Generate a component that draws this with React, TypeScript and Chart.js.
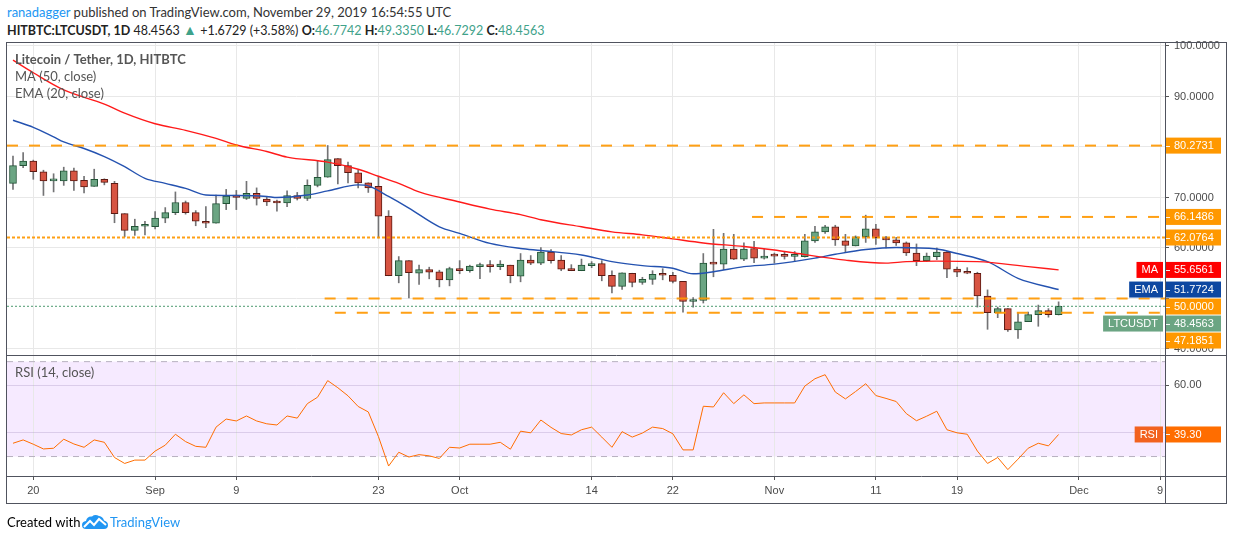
import { useEffect, useRef } from 'react';
import { Chart, registerables } from 'chart.js';

Chart.register(...registerables);

// ---- Data (day index 0 = Aug 18, 2019) ----
const opens = [72.8, 76.3, 77.2, 75.1, 73.3, 73.3, 75.3, 73.4, 72.2, 73.6, 72.8, 66.8, 63.5, 64.3, 64.2, 65.9, 67.0, 69.0, 67.0, 65.3, 64.9, 68.8, 70.5, 69.8, 70.8, 69.7, 69.1, 68.9, 70.4, 69.8, 72.4, 74.0, 77.7, 76.3, 74.9, 72.9, 72.2, 66.3, 54.5, 57.5, 55.0, 55.7, 55.3, 53.7, 55.9, 55.5, 56.3, 56.4, 56.3, 56.6, 54.4, 57.6, 57.0, 59.2, 57.6, 55.9, 55.5, 56.5, 56.9, 54.6, 52.4, 55.0, 53.2, 53.8, 54.9, 54.6, 53.4, 49.4, 49.6, 57.1, 56.8, 59.8, 57.8, 59.9, 58.0, 58.5, 58.45, 58.35, 58.3, 61.4, 63.2, 64.2, 61.4, 60.4, 62.2, 63.8, 62.0, 61.6, 61.0, 59.0, 57.5, 58.3, 59.2, 55.8, 55.3, 55.0, 50.5, 47.2, 48.0, 43.8, 45.4, 46.8, 47.6, 46.7742];
const highs = [78.2, 78.9, 77.4, 75.4, 74.7, 76.0, 75.8, 74.2, 75.6, 73.7, 73.2, 66.8, 65.7, 65.3, 67.2, 68.0, 71.1, 69.3, 67.4, 68.2, 70.5, 71.6, 71.4, 73.2, 71.9, 70.1, 69.5, 71.3, 71.0, 73.5, 77.3, 80.3, 77.7, 77.0, 75.4, 72.9, 74.2, 67.4, 58.3, 57.5, 56.6, 56.2, 55.6, 56.2, 57.5, 56.6, 57.0, 57.5, 57.5, 56.6, 58.9, 58.5, 60.1, 59.7, 58.5, 56.7, 57.8, 57.3, 57.5, 55.5, 55.1, 55.0, 54.2, 55.5, 55.9, 55.2, 53.4, 50.2, 58.9, 63.7, 62.9, 62.7, 61.0, 61.3, 59.8, 59.0, 59.3, 59.3, 62.7, 64.3, 64.5, 64.5, 62.7, 62.4, 66.5, 64.7, 62.3, 62.1, 61.2, 60.8, 59.0, 60.0, 59.3, 56.2, 56.1, 55.2, 51.7, 48.3, 48.0, 47.2, 47.3, 48.7, 48.0, 49.335];
const lows = [71.6, 75.9, 73.6, 70.4, 71.1, 72.4, 71.4, 70.9, 72.2, 72.5, 65.0, 62.2, 62.5, 62.6, 63.8, 65.0, 66.6, 66.7, 64.4, 64.0, 64.9, 67.6, 67.6, 69.6, 68.5, 68.4, 67.3, 68.2, 69.5, 69.4, 72.1, 74.0, 72.7, 72.9, 71.9, 71.0, 62.0, 54.5, 53.1, 50.1, 52.8, 53.9, 52.3, 52.5, 54.9, 55.2, 53.9, 55.2, 55.7, 53.1, 53.3, 56.7, 56.7, 57.0, 55.5, 55.5, 55.5, 56.1, 53.5, 51.1, 51.8, 52.3, 52.8, 52.8, 53.7, 53.1, 47.3, 48.3, 49.1, 54.3, 55.7, 57.7, 57.5, 57.1, 57.8, 57.0, 57.8, 57.3, 58.2, 61.1, 62.9, 60.5, 59.1, 60.4, 61.1, 60.7, 60.0, 60.5, 58.5, 56.5, 57.3, 57.7, 54.1, 54.3, 54.9, 48.3, 43.9, 46.2, 43.5, 42.1, 45.4, 44.5, 46.3, 46.7292];
const closes = [76.3, 77.2, 75.1, 73.3, 73.4, 75.3, 73.3, 72.1, 73.6, 73.0, 66.8, 63.5, 64.3, 64.4, 65.9, 67.0, 69.0, 67.0, 65.3, 64.9, 68.8, 70.3, 70.0, 70.8, 69.8, 69.1, 68.9, 70.4, 69.8, 72.4, 74.0, 77.5, 76.3, 74.9, 72.9, 71.9, 66.3, 54.5, 57.5, 55.1, 55.7, 55.2, 53.7, 55.9, 55.5, 56.4, 56.4, 56.3, 56.8, 54.5, 57.6, 57.0, 59.2, 57.5, 55.8, 55.5, 56.6, 56.9, 54.5, 52.4, 55.1, 53.2, 53.8, 54.8, 54.6, 53.4, 49.4, 49.5, 57.0, 56.8, 59.8, 57.8, 59.8, 58.0, 58.4, 58.4, 58.35, 58.45, 61.4, 63.2, 64.2, 61.6, 60.5, 62.2, 63.8, 62.0, 61.6, 61.0, 59.0, 57.5, 58.4, 59.2, 55.8, 55.2, 55.0, 50.5, 47.2, 48.0, 43.8, 45.4, 46.8, 47.6, 46.78, 48.4563];

const rsiValues = [35.6, 37.0, 35.2, 33.2, 33.5, 37.3, 35.3, 33.9, 37.0, 36.0, 29.6, 27.1, 28.5, 28.5, 32.3, 34.8, 39.4, 36.3, 34.3, 33.9, 42.4, 45.8, 45.0, 47.1, 45.0, 43.8, 43.3, 47.1, 46.2, 52.3, 55.0, 62.0, 59.0, 55.6, 51.1, 48.8, 38.4, 26.0, 31.8, 29.8, 30.8, 30.3, 29.2, 33.9, 33.6, 35.2, 35.2, 35.2, 36.0, 33.1, 40.7, 40.0, 45.4, 42.3, 39.7, 39.1, 41.3, 42.4, 38.2, 33.9, 40.5, 38.2, 39.9, 42.4, 41.8, 39.6, 32.8, 32.8, 51.2, 50.9, 56.9, 52.3, 56.0, 52.3, 52.6, 52.6, 52.6, 52.6, 59.7, 62.8, 64.5, 57.2, 54.3, 57.4, 60.7, 55.7, 54.5, 53.2, 48.1, 45.1, 47.0, 49.1, 41.3, 40.0, 39.4, 32.3, 27.1, 29.6, 24.5, 28.9, 33.5, 35.6, 34.5, 39.3];

const maDays = [0, 2, 5, 9, 11, 14, 17, 20, 22, 25, 27, 31, 34, 36, 38, 40, 44, 47, 50, 52, 56, 59, 62, 65, 68, 72, 75, 77, 82, 86, 88, 91, 95, 100, 103];
const maValues = [97.2, 94.7, 91.3, 88.5, 86.7, 84.6, 83.3, 81.7, 80.4, 79.1, 78.0, 77.0, 75.6, 74.2, 72.8, 71.1, 69.1, 67.7, 66.6, 65.6, 64.2, 63.2, 62.6, 61.8, 61.0, 60.3, 59.6, 59.0, 57.6, 57.0, 57.3, 57.4, 57.3, 56.3, 55.6561];
const emaDays = [0, 2, 4, 5, 7, 9, 11, 13, 15, 17, 19, 22, 25, 26, 29, 31, 34, 35, 37, 39, 42, 44, 47, 50, 52, 56, 59, 62, 65, 67, 69, 72, 75, 79, 81, 84, 87, 91, 93, 96, 99, 103];
const emaValues = [85.3, 83.9, 82.0, 81.0, 79.7, 78.1, 76.1, 73.8, 72.8, 71.8, 70.5, 70.4, 70.2, 70.0, 70.5, 71.3, 72.5, 72.3, 70.2, 67.9, 64.2, 62.9, 60.9, 59.9, 59.5, 58.6, 57.3, 56.5, 56.0, 54.9, 55.3, 56.3, 56.8, 58.0, 58.75, 59.7, 60.1, 59.8, 58.9, 57.3, 54.0, 51.7724];

const tickDays = [2, 14, 22, 36, 44, 57, 65, 75, 85, 93, 105, 113];
const tickLabels = ['20', 'Sep', '9', '23', 'Oct', '14', '22', 'Nov', '11', '19', 'Dec', '9'];
const priceTicks = [40, 50, 60, 70, 80, 90, 100];
const rsiTicks = [40, 60];
const rsiBands = [70, 30];

const X_MIN = -0.59;
const X_MAX = 113.48;

const levelValues = [80.2731, 66.1486, 62.0764, 50.0, 47.1851];
const levelStartDays = [X_MIN, 72.8, X_MIN, 30.7, 31.7];
const levelDotted = [false, false, true, false, false];

const lastPrice = 48.4563;
const maLast = 55.6561;
const emaLast = 51.7724;
const rsiLast = 39.3;

const UP = '#6ba583';
const UP_BORDER = '#225437';
const DOWN = '#d75442';
const DOWN_BORDER = '#5b1a13';
const ORANGE = '#ff9800';
const TEAL = '#3fa28a';
const AXIS_FONT = '"Liberation Sans", Arial, sans-serif';
const TEXT_FONT = 'Lato, "Open Sans", sans-serif';

export default function App() {
  const ref = useRef<HTMLCanvasElement>(null);

  useEffect(() => {
    const canvas = ref.current;
    if (!canvas) return;
    const days = opens.map((_, i) => i);
    const isUp = days.map((i) => closes[i] >= opens[i]);

    const levelSets = levelValues.map((v, i) => ({
      type: 'line' as const,
      yAxisID: 'y',
      data: [
        { x: levelStartDays[i], y: v },
        { x: X_MAX, y: v },
      ],
      borderColor: 'rgba(255,152,0,0.92)',
      borderWidth: 2,
      borderDash: levelDotted[i] ? [3, 2] : [11, 11],
      pointRadius: 0,
      order: -2,
    }));

    const bgPlugin = {
      id: 'rsiBg',
      beforeDraw(chart: any) {
        const { ctx, chartArea } = chart;
        const r = chart.scales.rsi;
        const top = r.getPixelForValue(rsiBands[0]);
        const bot = r.getPixelForValue(rsiBands[1]);
        ctx.save();
        ctx.fillStyle = 'rgba(153,21,255,0.09)';
        ctx.fillRect(chartArea.left, top, chartArea.right - chartArea.left, bot - top);
        ctx.restore();
      },
    };

    const overlayPlugin = {
      id: 'overlay',
      afterDraw(chart: any) {
        const { ctx, chartArea } = chart;
        const yS = chart.scales.y;
        const rS = chart.scales.rsi;
        const ax = chartArea.right;
        const L = 6.5;
        const R = 1226.5;
        const T = 42.5;
        const B = 503.5;
        ctx.save();
        // frame
        ctx.strokeStyle = '#50535e';
        ctx.lineWidth = 1;
        ctx.strokeRect(L, T, R - L, B - T);
        ctx.beginPath();
        ctx.moveTo(L, Math.round(yS.bottom) + 0.5);
        ctx.lineTo(R, Math.round(yS.bottom) + 0.5);
        ctx.moveTo(L, Math.round(chartArea.bottom) + 0.5);
        ctx.lineTo(R, Math.round(chartArea.bottom) + 0.5);
        ctx.moveTo(Math.round(ax) + 0.5, T);
        ctx.lineTo(Math.round(ax) + 0.5, B);
        ctx.stroke();

        // legends
        ctx.textBaseline = 'middle';
        ctx.textAlign = 'left';
        ctx.fillStyle = '#555';
        ctx.font = `bold 13px ${TEXT_FONT}`;
        ctx.fillText('Litecoin / Tether, 1D, HITBTC', 15, 60);
        ctx.font = `13px ${TEXT_FONT}`;
        ctx.fillText('MA (50, close)', 15, 77);
        ctx.fillText('EMA (20, close)', 15, 94);
        ctx.fillText('RSI (14, close)', 15, 373);

        // axis value labels
        const labels = [
          { v: levelValues[0], color: ORANGE, name: '' },
          { v: levelValues[1], color: ORANGE, name: '' },
          { v: levelValues[2], color: ORANGE, name: '' },
          { v: maLast, color: '#ff0000', name: 'MA' },
          { v: emaLast, color: '#0d47a1', name: 'EMA' },
          { v: levelValues[3], color: ORANGE, name: '' },
          { v: lastPrice, color: UP, name: 'LTCUSDT' },
          { v: levelValues[4], color: ORANGE, name: '' },
        ]
          .map((l) => ({ ...l, py: yS.getPixelForValue(l.v) }))
          .sort((a, b) => a.py - b.py);
        let prev = -1e9;
        const drawLabel = (y: number, text: string, color: string, name: string, nameColor: string) => {
          ctx.fillStyle = color;
          ctx.fillRect(ax + 1, y - 8, 55, 16);
          ctx.strokeStyle = 'rgba(255,255,255,0.9)';
          ctx.beginPath();
          ctx.moveTo(ax + 1, Math.round(y) + 0.5);
          ctx.lineTo(ax + 5, Math.round(y) + 0.5);
          ctx.stroke();
          ctx.font = `11px ${AXIS_FONT}`;
          ctx.fillStyle = '#fff';
          ctx.textAlign = 'left';
          ctx.fillText(text, ax + 9, y + 0.5);
          if (name) {
            const w = ctx.measureText(name).width + 10;
            ctx.fillStyle = nameColor;
            ctx.fillRect(ax - 2 - w, y - 8, w, 16);
            ctx.fillStyle = '#fff';
            ctx.textAlign = 'center';
            ctx.fillText(name, ax - 2 - w / 2, y + 0.5);
          }
        };
        for (const l of labels) {
          const y = Math.max(l.py, prev + 17);
          prev = y;
          drawLabel(y, l.v.toFixed(4), l.color, l.name, l.color);
        }
        drawLabel(rS.getPixelForValue(rsiLast), rsiLast.toFixed(2), '#ff6d00', 'RSI', '#f2621f');
        ctx.restore();
      },
    };

    const chart = new Chart(canvas, {
      type: 'bar',
      data: {
        datasets: [
          ...levelSets,
          {
            type: 'line',
            yAxisID: 'y',
            data: [
              { x: X_MIN, y: lastPrice },
              { x: X_MAX, y: lastPrice },
            ],
            borderColor: '#4c9a6e',
            borderWidth: 1,
            borderDash: [2, 2],
            pointRadius: 0,
            order: -1,
          },
          {
            type: 'line',
            yAxisID: 'y',
            data: maDays.map((d, i) => ({ x: d, y: maValues[i] })),
            borderColor: '#ff1a1a',
            borderWidth: 1.4,
            pointRadius: 0,
            cubicInterpolationMode: 'monotone',
            order: 0,
          },
          {
            type: 'line',
            yAxisID: 'y',
            data: emaDays.map((d, i) => ({ x: d, y: emaValues[i] })),
            borderColor: '#2452b0',
            borderWidth: 1.4,
            pointRadius: 0,
            cubicInterpolationMode: 'monotone',
            order: 0,
          },
          {
            type: 'bar',
            yAxisID: 'y',
            data: days.map((i) => ({ x: i, y: [opens[i], closes[i]] })),
            backgroundColor: isUp.map((u) => (u ? UP : DOWN)),
            borderColor: isUp.map((u) => (u ? UP_BORDER : DOWN_BORDER)),
            borderWidth: 1,
            borderSkipped: false,
            barThickness: 7,
            minBarLength: 2,
            grouped: false,
            order: 1,
          },
          {
            type: 'bar',
            yAxisID: 'y',
            data: days.map((i) => ({ x: i, y: [lows[i], highs[i]] })),
            backgroundColor: '#737375',
            borderWidth: 0,
            barThickness: 1,
            grouped: false,
            order: 2,
          },
          {
            type: 'line',
            yAxisID: 'rsi',
            data: days.map((i) => ({ x: i, y: rsiValues[i] })),
            borderColor: '#ff6d00',
            borderWidth: 1,
            pointRadius: 0,
            order: 0,
          },
          ...rsiBands.map((b) => ({
            type: 'line' as const,
            yAxisID: 'rsi',
            data: [
              { x: X_MIN, y: b },
              { x: X_MAX, y: b },
            ],
            borderColor: '#b7b0bf',
            borderWidth: 1,
            borderDash: [6, 5],
            pointRadius: 0,
            order: 1,
          })),
        ] as any,
      },
      options: {
        responsive: false,
        animation: false,
        events: [],
        layout: { padding: { left: 7, top: 43, right: 7, bottom: 37 } },
        plugins: { legend: { display: false }, tooltip: { enabled: false } },
        scales: {
          x: {
            type: 'linear',
            min: X_MIN,
            max: X_MAX,
            offset: false,
            afterBuildTicks: (s: any) => {
              s.ticks = tickDays.map((v) => ({ value: v }));
            },
            afterFit: (s: any) => {
              s.height = 27;
            },
            ticks: {
              autoSkip: false,
              maxRotation: 0,
              padding: 4,
              color: '#4a4a4a',
              font: { family: AXIS_FONT, size: 11 },
              callback: (_v: any, i: number) => tickLabels[i] ?? '',
            },
            grid: { color: '#e8e8e8', offset: false, tickLength: 4, tickColor: '#555' },
            border: { display: false },
          },
          y: {
            type: 'linear',
            position: 'right',
            stack: 'panes',
            stackWeight: 312,
            min: 38.81,
            max: 100.59,
            afterBuildTicks: (s: any) => {
              s.ticks = priceTicks.map((v) => ({ value: v }));
            },
            afterFit: (s: any) => {
              s.width = 62;
            },
            ticks: {
              padding: 5,
              color: '#4a4a4a',
              font: { family: AXIS_FONT, size: 11 },
              callback: (v: any) => (v === 50 || v === 80 ? '' : Number(v).toFixed(4)),
            },
            grid: { color: '#e8e8e8', tickLength: 4, tickColor: '#555' },
            border: { display: false },
          },
          rsi: {
            type: 'linear',
            position: 'right',
            stack: 'panes',
            stackWeight: 121,
            min: 21.8,
            max: 72.8,
            afterBuildTicks: (s: any) => {
              s.ticks = rsiTicks.map((v) => ({ value: v }));
            },
            afterFit: (s: any) => {
              s.width = 62;
            },
            ticks: {
              padding: 5,
              color: '#4a4a4a',
              font: { family: AXIS_FONT, size: 11 },
              callback: (v: any) => Number(v).toFixed(2),
            },
            grid: { color: 'rgba(170,150,195,0.35)', tickLength: 4, tickColor: '#555' },
            border: { display: false },
          },
        },
      } as any,
      plugins: [bgPlugin, overlayPlugin],
    });
    return () => chart.destroy();
  }, []);

  const green = TEAL;
  return (
    <div
      style={{
        position: 'fixed',
        left: 0,
        top: 0,
        width: 1234,
        height: 540,
        background: '#fff',
        overflow: 'hidden',
        fontFamily: TEXT_FONT,
        fontSize: 13,
        color: '#333',
      }}
    >
      <div style={{ position: 'absolute', left: 7, top: 4, lineHeight: '16px', whiteSpace: 'nowrap' }}>
        <span style={{ color: '#2196f3' }}>ranadagger</span> published on TradingView.com, November 29, 2019 16:54:55 UTC
      </div>
      <div style={{ position: 'absolute', left: 7, top: 22, lineHeight: '16px', whiteSpace: 'nowrap', color: '#222', fontSize: 12.5 }}>
        <b>HITBTC:LTCUSDT, 1D</b> 48.4563 <span style={{ color: green, fontSize: 14 }}>▲</span> +1.6729 (+3.58%) <b>O:</b>
        <span style={{ color: green }}>46.7742</span> <b>H:</b>
        <span style={{ color: green }}>49.3350</span> <b>L:</b>
        <span style={{ color: green }}>46.7292</span> <b>C:</b>
        <span style={{ color: green }}>48.4563</span>
      </div>
      <canvas ref={ref} width={1234} height={540} style={{ position: 'absolute', left: 0, top: 0, width: 1234, height: 540 }} />
      <div style={{ position: 'absolute', left: 7, top: 514, lineHeight: '16px', color: '#000', whiteSpace: 'nowrap' }}>
        Created with
      </div>
      <svg style={{ position: 'absolute', left: 82, top: 514 }} width="26" height="16" viewBox="0 0 26 16">
        <path
          d="M4 15 Q0 15 0 11 Q0 7.5 4 7 Q5 2 10 2.5 Q13 0 17 2 Q21 2.5 22 6.5 Q26 7.5 26 11 Q26 15 22 15 Z"
          fill="#2196f3"
        />
        <polyline points="2,13 8,7 12,11 17,5 24,11" stroke="#fff" strokeWidth="2" fill="none" />
      </svg>
      <div style={{ position: 'absolute', left: 110, top: 514, lineHeight: '16px', color: '#2196f3', whiteSpace: 'nowrap' }}>
        TradingView
      </div>
    </div>
  );
}
